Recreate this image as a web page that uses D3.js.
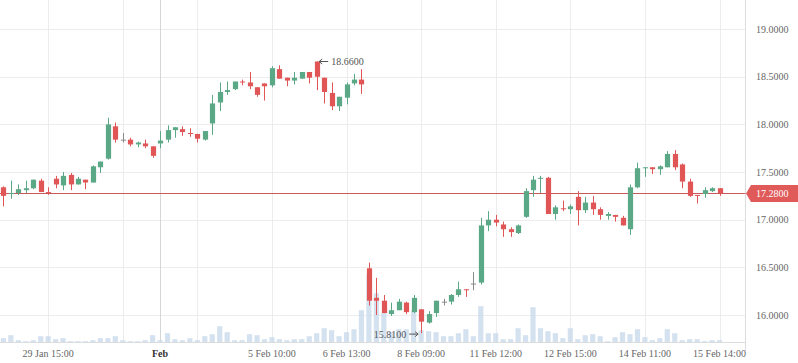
<!DOCTYPE html>
<html>
<head>
<meta charset="utf-8">
<script src="https://cdn.jsdelivr.net/npm/d3@7"></script>
<style>
  html, body { margin: 0; padding: 0; background: #fff; }
  svg { display: block; font-family: "Liberation Serif", "Times New Roman", serif; }
</style>
</head>
<body>
<div id="chart"></div>
<script>
// candles, one per bar, index 0..96
var opens = [17.34,17.27,17.28,17.31,17.33,17.41,17.29,17.43,17.36,17.47,17.37,17.42,17.39,17.55,17.64,17.98,17.84,17.84,17.79,17.80,
  17.77,17.80,17.84,17.94,17.95,17.91,17.90,17.84,18.01,18.23,18.34,18.37,18.45,18.44,18.39,18.43,18.41,18.58,18.49,18.46,
  18.48,18.55,18.66,18.49,18.33,18.19,18.28,18.43,18.47,16.49,16.18,16.15,16.01,16.05,16.13,16.03,16.06,15.92,16.02,16.14,
  16.14,16.21,16.27,16.33,16.34,16.94,17.00,16.95,16.90,16.86,17.03,17.31,17.43,17.44,17.06,17.12,17.11,17.24,17.10,17.18,
  17.11,17.04,17.05,17.02,16.90,17.34,17.54,17.55,17.53,17.55,17.69,17.58,17.40,17.26,17.27,17.30,17.33];
var highs = [17.35,17.41,17.37,17.41,17.42,17.43,17.34,17.46,17.50,17.49,17.45,17.42,17.57,17.61,18.07,18.02,17.91,17.86,17.82,17.84,
  17.77,17.93,17.99,17.97,17.98,17.96,17.90,17.93,18.31,18.44,18.45,18.45,18.47,18.55,18.39,18.43,18.61,18.62,18.49,18.55,
  18.55,18.55,18.66,18.49,18.44,18.29,18.44,18.53,18.58,16.55,16.39,16.21,16.13,16.17,16.14,16.21,16.06,16.04,16.15,16.17,
  16.22,16.35,16.27,16.45,17.02,17.09,17.05,16.98,16.92,16.95,17.33,17.46,17.46,17.45,17.15,17.20,17.16,17.30,17.24,17.25,
  17.13,17.08,17.05,17.04,17.37,17.60,17.55,17.55,17.57,17.72,17.73,17.59,17.43,17.26,17.34,17.34,17.33];
var lows = [17.14,17.22,17.26,17.28,17.32,17.29,17.26,17.33,17.31,17.31,17.37,17.32,17.39,17.49,17.63,17.81,17.81,17.77,17.76,17.75,
  17.65,17.75,17.81,17.86,17.88,17.87,17.81,17.83,17.89,18.14,18.31,18.36,18.41,18.37,18.29,18.25,18.39,18.48,18.40,18.42,
  18.48,18.43,18.36,18.22,18.15,18.14,18.21,18.41,18.32,16.10,16.00,16.02,15.99,16.05,16.01,16.02,15.81,15.91,15.98,16.10,
  16.11,16.19,16.19,16.26,16.32,16.88,16.93,16.82,16.82,16.85,17.02,17.24,17.28,17.06,17.00,17.09,17.06,16.94,17.07,17.05,
  17.00,17.00,16.98,16.94,16.84,17.33,17.45,17.48,17.47,17.55,17.52,17.33,17.24,17.17,17.23,17.29,17.25];
var closes = [17.25,17.28,17.32,17.33,17.42,17.29,17.28,17.37,17.46,17.37,17.43,17.39,17.56,17.61,18.00,17.84,17.84,17.79,17.81,17.77,
  17.67,17.83,17.94,17.97,17.92,17.90,17.85,17.93,18.22,18.34,18.36,18.45,18.44,18.40,18.31,18.40,18.59,18.48,18.46,18.49,
  18.55,18.49,18.50,18.34,18.19,18.29,18.42,18.47,18.42,16.15,16.15,16.02,16.05,16.14,16.03,16.18,15.93,16.01,16.15,16.14,
  16.21,16.27,16.26,16.33,16.94,17.00,16.97,16.90,16.87,16.94,17.30,17.42,17.44,17.06,17.13,17.11,17.14,17.10,17.18,17.11,
  17.05,17.06,17.03,16.94,17.34,17.54,17.55,17.53,17.56,17.69,17.55,17.40,17.25,17.25,17.31,17.33,17.28];
var volumes = [43,73,23,13,23,63,63,33,43,13,13,13,23,43,43,63,23,13,13,23,
  73,23,93,33,23,43,23,63,83,163,103,23,23,83,73,33,53,33,23,33,
  33,63,93,143,123,63,103,133,323,683,493,293,103,133,133,323,123,113,103,63,
  63,93,133,63,363,93,93,33,33,143,73,353,143,113,93,43,143,33,73,83,
  63,13,53,103,83,133,53,23,43,133,93,23,33,33,13,23,23];

// time axis: a gridline every 10 bars, some without label
var tickIndex = [6, 16, 21, 26, 36, 46, 56, 66, 76, 86, 96];
var tickLabels = ["29 Jan 15:00", "", "Feb", "", "5 Feb 10:00", "6 Feb 13:00", "8 Feb 09:00",
  "11 Feb 12:00", "12 Feb 15:00", "14 Feb 11:00", "15 Feb 14:00"];
var priceTicks = [16, 16.5, 17, 17.5, 18, 18.5, 19];
var lastPrice = 17.28;

var width = 798, height = 363;
var plotRight = 745.5, axisY = 342.5;

var svg = d3.select("#chart").append("svg")
  .attr("width", width)
  .attr("height", height);

var x = d3.scaleLinear().domain([0, 96]).range([3.4, 719.5]);
var y = d3.scaleLinear().domain([16, 19]).range([315, 29.1]);
var v = d3.scaleLinear().domain([0, 100]).range([0, 10]);
var bw = 5.2;

var green = "#5ba887", red = "#e05656", grey = "#8a8a8a";

// grid
svg.append("g").selectAll("line")
  .data(priceTicks)
  .enter().append("line")
  .attr("x1", 0).attr("x2", plotRight)
  .attr("y1", function(d) { return Math.round(y(d)) + 0.5; })
  .attr("y2", function(d) { return Math.round(y(d)) + 0.5; })
  .attr("stroke", "#ececec");

svg.append("g").selectAll("line")
  .data(tickIndex)
  .enter().append("line")
  .attr("x1", function(d) { return Math.round(x(d)) + 0.5; })
  .attr("x2", function(d) { return Math.round(x(d)) + 0.5; })
  .attr("y1", 0).attr("y2", axisY)
  .attr("stroke", function(d, i) { return tickLabels[i] == "Feb" ? "#d3d7d7" : "#ececec"; });

// volume
var data = opens.map(function(o, i) {
  return { i: i, o: o, h: highs[i], l: lows[i], c: closes[i], vol: volumes[i] };
});

svg.append("g").selectAll("rect")
  .data(data)
  .enter().append("rect")
  .attr("x", function(d) { return x(d.i) - bw / 2; })
  .attr("width", bw)
  .attr("y", function(d) { return axisY - v(d.vol); })
  .attr("height", function(d) { return v(d.vol); })
  .attr("fill", "#c9dbec")
  .attr("opacity", 0.8);

// axes lines
svg.append("line")
  .attr("x1", 0).attr("x2", plotRight)
  .attr("y1", axisY).attr("y2", axisY)
  .attr("stroke", "#dcdcdc");
svg.append("line")
  .attr("x1", plotRight).attr("x2", plotRight)
  .attr("y1", 0).attr("y2", 351)
  .attr("stroke", "#dcdcdc");

// last price line
var ly = Math.round(y(lastPrice)) + 0.5;
svg.append("line")
  .attr("x1", 0).attr("x2", plotRight)
  .attr("y1", ly).attr("y2", ly)
  .attr("stroke", "#c85a5a").attr("stroke-width", 1);

// candles
function colour(d) {
  if (d.c > d.o) return green;
  if (d.c < d.o) return red;
  return grey;
}

var candles = svg.append("g").selectAll("g")
  .data(data)
  .enter().append("g");

candles.append("line")
  .attr("x1", function(d) { return Math.round(x(d.i)) + 0.5; })
  .attr("x2", function(d) { return Math.round(x(d.i)) + 0.5; })
  .attr("y1", function(d) { return y(d.h); })
  .attr("y2", function(d) { return y(d.l); })
  .attr("stroke", colour);

candles.append("rect")
  .attr("x", function(d) { return Math.round(x(d.i)) + 0.5 - bw / 2; })
  .attr("width", bw)
  .attr("y", function(d) { return y(Math.max(d.o, d.c)); })
  .attr("height", function(d) { return Math.max(1, Math.abs(y(d.o) - y(d.c))); })
  .attr("fill", colour);

// right axis labels
svg.append("g").selectAll("text")
  .data(priceTicks)
  .enter().append("text")
  .attr("x", 756)
  .attr("y", function(d) { return y(d) + 3.5; })
  .attr("font-size", 10)
  .attr("fill", "#666")
  .text(function(d) { return d3.format(".4f")(d); });

// last price tag
svg.append("path")
  .attr("d", "M746," + ly + "L751," + (ly - 8.5) + "L798," + (ly - 8.5) + "L798," + (ly + 8.5) + "L751," + (ly + 8.5) + "Z")
  .attr("fill", "#e05a5a");
svg.append("text")
  .attr("x", 756)
  .attr("y", ly + 3.5)
  .attr("font-size", 10)
  .attr("fill", "#fff")
  .text(d3.format(".4f")(lastPrice));

// time labels
svg.append("g").selectAll("text")
  .data(tickIndex)
  .enter().append("text")
  .attr("x", function(d) { return x(d); })
  .attr("y", 357)
  .attr("text-anchor", "middle")
  .attr("font-size", 10)
  .attr("font-weight", function(d, i) { return tickLabels[i] == "Feb" ? "bold" : "normal"; })
  .attr("fill", function(d, i) { return tickLabels[i] == "Feb" ? "#333" : "#666"; })
  .text(function(d, i) { return tickLabels[i]; });

// max / min markers
var hiIdx = d3.maxIndex(highs), loIdx = d3.minIndex(lows);
var hy = y(highs[hiIdx]), lyy = y(lows[loIdx]);
var hx = x(hiIdx) + 2.5, lx = x(loIdx) - 3;

svg.append("path")
  .attr("d", "M" + hx + "," + hy + "h9 M" + hx + "," + hy + "l3,-2.5 M" + hx + "," + hy + "l3,2.5")
  .attr("stroke", "#555").attr("fill", "none");
svg.append("text")
  .attr("x", hx + 12)
  .attr("y", hy + 3.5)
  .attr("font-size", 10)
  .attr("fill", "#555")
  .text(d3.format(".4f")(highs[hiIdx]));

svg.append("path")
  .attr("d", "M" + lx + "," + (lyy + 1) + "h-9 M" + lx + "," + (lyy + 1) + "l-3,-2.5 M" + lx + "," + (lyy + 1) + "l-3,2.5")
  .attr("stroke", "#555").attr("fill", "none");
svg.append("text")
  .attr("x", lx - 12)
  .attr("y", lyy + 4.5)
  .attr("text-anchor", "end")
  .attr("font-size", 10)
  .attr("fill", "#555")
  .text(d3.format(".4f")(lows[loIdx]));
</script>
</body>
</html>
